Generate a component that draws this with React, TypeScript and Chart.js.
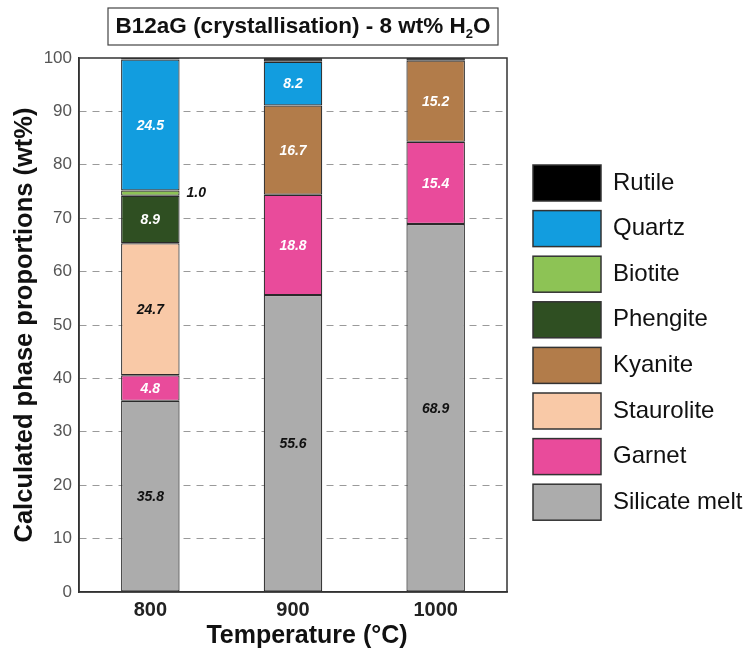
import React, { useEffect, useRef } from 'react';
import { Chart, registerables } from 'chart.js';
Chart.register(...registerables);

const FONT = '"Liberation Sans", Arial, Helvetica, sans-serif';

const categories = ['800', '900', '1000'];
const silicateMelt = [35.8, 55.6, 68.9];
const garnet = [4.8, 18.8, 15.4];
const staurolite = [24.7, null, null];
const kyanite = [null, 16.7, 15.2];
const phengite = [8.9, null, null];
const biotite = [1.0, null, null];
const quartz = [24.5, 8.2, null];
const rutile = [0.3, 0.7, 0.5];

const phaseNames = ['Silicate melt', 'Garnet', 'Staurolite', 'Kyanite', 'Phengite', 'Biotite', 'Quartz', 'Rutile'];
const phaseValues = [silicateMelt, garnet, staurolite, kyanite, phengite, biotite, quartz, rutile];
const phaseColors = ['#acacac', '#e94b9b', '#f9c9a7', '#b27c4a', '#2f4f22', '#8dc355', '#129ddf', '#000000'];
const labelColors = ['#111111', '#ffffff', '#111111', '#ffffff', '#ffffff', '#111111', '#ffffff', ''];
const labelOutside = [false, false, false, false, false, true, false, false];

const titleMain = 'B12aG (crystallisation) - 8 wt% H';
const titleSub = '2';
const titleEnd = 'O';
const xTitle = 'Temperature (°C)';
const yTitle = 'Calculated phase proportions (wt%)';

export default function App() {
  const ref = useRef<HTMLCanvasElement>(null);
  useEffect(() => {
    const datasets = phaseNames.map((name, i) => ({
      label: name,
      data: phaseValues[i],
      backgroundColor: phaseColors[i],
      borderColor: '#2a2a2a',
      borderWidth: 1.2,
      borderSkipped: false as any,
      barPercentage: 0.41,
      categoryPercentage: 1,
    }));

    const titlePlugin = {
      id: 'titleBox',
      afterDraw(chart: any) {
        const ctx = chart.ctx;
        ctx.save();
        const bx = 108, by = 8, bw = 390, bh = 37;
        ctx.fillStyle = '#fff';
        ctx.fillRect(bx, by, bw, bh);
        ctx.strokeStyle = '#444';
        ctx.lineWidth = 1.2;
        ctx.strokeRect(bx, by, bw, bh);
        const big = `bold 22.5px ${FONT}`;
        const small = `bold 13px ${FONT}`;
        ctx.font = big;
        const w1 = ctx.measureText(titleMain).width;
        const w3 = ctx.measureText(titleEnd).width;
        ctx.font = small;
        const w2 = ctx.measureText(titleSub).width;
        const total = w1 + w2 + w3;
        let x = bx + bw / 2 - total / 2;
        const y = by + bh / 2;
        ctx.fillStyle = '#111';
        ctx.textBaseline = 'middle';
        ctx.textAlign = 'left';
        ctx.font = big;
        ctx.fillText(titleMain, x, y);
        x += w1;
        ctx.font = small;
        ctx.fillText(titleSub, x, y + 8);
        x += w2;
        ctx.font = big;
        ctx.fillText(titleEnd, x, y);

        // x axis title
        ctx.font = `bold 25px ${FONT}`;
        ctx.textAlign = 'center';
        ctx.fillText(xTitle, 307, 636);
        ctx.restore();
      },
    };

    const framePlugin = {
      id: 'frame',
      afterDraw(chart: any) {
        const { ctx, chartArea: a } = chart;
        ctx.save();
        ctx.strokeStyle = '#333';
        ctx.lineWidth = 1.5;
        ctx.strokeRect(a.left, a.top, a.right - a.left, a.bottom - a.top);
        ctx.restore();
      },
    };

    const labelPlugin = {
      id: 'barLabels',
      afterDatasetsDraw(chart: any) {
        const ctx = chart.ctx;
        ctx.save();
        ctx.font = `italic bold 14px ${FONT}`;
        ctx.textBaseline = 'middle';
        chart.data.datasets.forEach((ds: any, i: number) => {
          if (!labelColors[i]) return;
          const meta = chart.getDatasetMeta(i);
          meta.data.forEach((el: any, j: number) => {
            const v = ds.data[j];
            if (v == null) return;
            const p = el.getProps(['x', 'y', 'base', 'width'], true);
            const cy = (p.y + p.base) / 2;
            ctx.fillStyle = labelColors[i];
            if (labelOutside[i]) {
              ctx.textAlign = 'left';
              ctx.fillText(v.toFixed(1), p.x + p.width / 2 + 7, cy);
            } else {
              ctx.textAlign = 'center';
              ctx.fillText(v.toFixed(1), p.x, cy + 1);
            }
          });
        });
        ctx.restore();
      },
    };

    const legendPlugin = {
      id: 'customLegend',
      afterDraw(chart: any) {
        const ctx = chart.ctx;
        ctx.save();
        const n = chart.data.datasets.length;
        const x0 = 533, y0 = 165, bw = 68, bh = 36, step = 45.6;
        ctx.font = `24px ${FONT}`;
        ctx.textBaseline = 'middle';
        ctx.textAlign = 'left';
        for (let k = 0; k < n; k++) {
          const ds = chart.data.datasets[n - 1 - k];
          const y = y0 + k * step;
          ctx.fillStyle = ds.backgroundColor;
          ctx.fillRect(x0, y, bw, bh);
          ctx.strokeStyle = '#333';
          ctx.lineWidth = 1.5;
          ctx.strokeRect(x0, y, bw, bh);
          ctx.fillStyle = '#111';
          ctx.fillText(ds.label, 613, y + bh / 2);
        }
        ctx.restore();
      },
    };

    const chart = new Chart(ref.current as HTMLCanvasElement, {
      type: 'bar',
      data: { labels: categories, datasets: datasets as any },
      options: {
        responsive: false,
        devicePixelRatio: 1,
        animation: false,
        layout: { padding: { top: 58, right: 245, left: 0, bottom: 0 } },
        plugins: {
          legend: { display: false },
          tooltip: { enabled: false },
          title: { display: false },
        },
        scales: {
          x: {
            stacked: true,
            grid: { display: false },
            border: { display: true, color: '#333', width: 1.5 },
            ticks: { font: { family: FONT, size: 20, weight: 'bold' }, color: '#222', padding: -2 },
            title: { display: false },
            afterFit: (s: any) => { s.height = 56; },
          },
          y: {
            stacked: true,
            min: 0,
            max: 100,
            ticks: { stepSize: 10, font: { family: FONT, size: 17 }, color: '#555', padding: 7 },
            grid: {
              drawTicks: false,
              color: (c: any) => (c.tick && (c.tick.value === 0 || c.tick.value === 100) ? 'rgba(0,0,0,0)' : '#9a9a9a'),
              lineWidth: 1,
            },
            border: { display: true, color: '#333', width: 1.5, dash: [7, 6] },
            title: {
              display: true,
              text: yTitle,
              font: { family: FONT, size: 25.5, weight: 'bold' },
              color: '#111',
              padding: { top: 10, bottom: 0 },
            },
            afterFit: (s: any) => { s.width = 79; },
          },
        },
      } as any,
      plugins: [framePlugin, labelPlugin, legendPlugin, titlePlugin],
    });
    return () => chart.destroy();
  }, []);

  return (
    <div style={{ position: 'absolute', left: 0, top: 0, width: 752, height: 648, background: '#fff' }}>
      <canvas ref={ref} width={752} height={648} style={{ width: 752, height: 648, display: 'block' }} />
    </div>
  );
}
